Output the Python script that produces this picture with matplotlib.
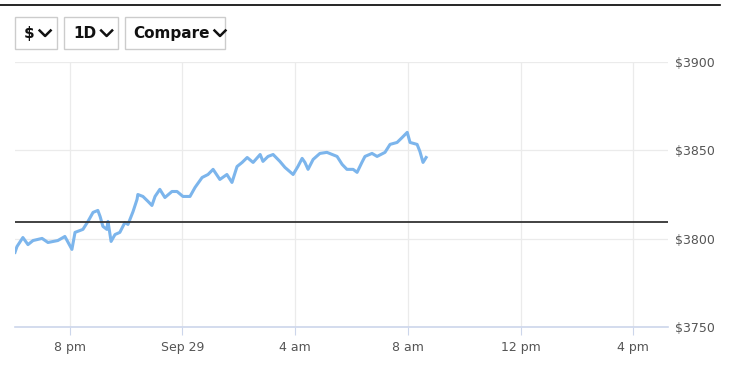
import matplotlib
matplotlib.use('Agg')
import matplotlib.pyplot as plt
from matplotlib.patches import Rectangle
from matplotlib.lines import Line2D

# hours relative to midnight Sep 29, and price
hours = [-5.94, -5.87, -5.66, -5.48, -5.30, -4.98, -4.77, -4.42, -4.17, -3.92,
         -3.81, -3.53, -3.35, -3.17, -3.00, -2.92, -2.82, -2.68, -2.64, -2.53,
         -2.39, -2.22, -2.04, -1.93, -1.75, -1.61, -1.58, -1.40, -1.22, -1.08,
         -0.97, -0.80, -0.62, -0.37, -0.19, 0.02, 0.27, 0.45, 0.70, 0.91,
         1.09, 1.33, 1.58, 1.76, 1.94, 2.12, 2.30, 2.51, 2.76, 2.86,
         3.04, 3.22, 3.46, 3.64, 3.93, 4.10, 4.25, 4.35, 4.46, 4.64,
         4.88, 5.13, 5.49, 5.67, 5.84, 6.06, 6.20, 6.37, 6.48, 6.73,
         6.91, 7.19, 7.37, 7.62, 7.80, 7.98, 8.08, 8.33, 8.43, 8.54, 8.65]
prices = [3792.3, 3795.6, 3800.7, 3796.7, 3799.0, 3800.2, 3797.9, 3799.0, 3801.3, 3794.0,
          3803.6, 3805.3, 3809.8, 3814.9, 3816.0, 3812.6, 3807.0, 3805.3, 3809.8, 3798.5,
          3802.4, 3803.6, 3809.2, 3808.1, 3815.4, 3822.2, 3825.0, 3823.9, 3821.1, 3818.8,
          3823.9, 3827.9, 3823.3, 3826.7, 3826.7, 3823.9, 3823.9, 3829.0, 3834.6, 3836.3,
          3839.2, 3833.5, 3836.3, 3831.8, 3840.8, 3843.1, 3845.9, 3843.1, 3847.6, 3843.7,
          3846.5, 3847.6, 3843.7, 3840.3, 3836.3, 3840.8, 3845.4, 3843.1, 3839.2, 3844.8,
          3848.2, 3848.8, 3846.5, 3842.0, 3839.2, 3839.2, 3837.5, 3843.1, 3846.5, 3848.2,
          3846.5, 3848.8, 3853.3, 3854.4, 3857.2, 3860.1, 3854.4, 3853.3, 3849.3, 3843.1, 3845.9]
prev_close = 3809.5

tick_hours = [-4, 0, 4, 8, 12, 16]
tick_labels = ['8 pm', 'Sep 29', '4 am', '8 am', '12 pm', '4 pm']
y_ticks = [3750, 3800, 3850, 3900]
buttons = ['$', '1D', 'Compare']

W, H = 737, 366
fig = plt.figure(figsize=(W / 100, H / 100), dpi=100)
ax = fig.add_axes([15 / W, (H - 327.3) / H, (667.6 - 15) / W, (327.3 - 61.7) / H])

ax.plot(hours, prices, color='#7cb5ec', linewidth=2.2, solid_joinstyle='round', zorder=3)
ax.axhline(prev_close, color='#333333', linewidth=1.3, zorder=4)

ax.set_xlim(-5.94, 17.22)
ax.set_ylim(3750, 3900)
ax.set_xticks(tick_hours)
ax.set_xticklabels(tick_labels)
ax.set_yticks(y_ticks)
ax.set_yticklabels(['$%d' % v for v in y_ticks])
ax.yaxis.tick_right()
ax.grid(True, color='#ebebeb', linewidth=0.9, zorder=0)

for s in ['top', 'left', 'right']:
    ax.spines[s].set_visible(False)
ax.spines['bottom'].set_color('#ccd6eb')
ax.spines['bottom'].set_linewidth(1.2)
ax.tick_params(axis='x', length=6, color='#ccd6eb', pad=4, labelsize=9, labelcolor='#555555')
ax.tick_params(axis='y', length=0, pad=5, labelsize=9, labelcolor='#555555')
for lbl in ax.get_yticklabels():
    lbl.set_horizontalalignment('left')

# top rule
fig.add_artist(Line2D([0, 720 / W], [1 - 5 / H, 1 - 5 / H], color='black', linewidth=1.2))

# dropdown buttons
boxes = [(15, 57), (64, 118), (125, 225)]
text_x = [24, 73, 133]
cy = H - 33.5  # pixels from bottom
for (x0, x1), tx, name in zip(boxes, text_x, buttons):
    fig.add_artist(Rectangle((x0 / W, 1 - 49 / H), (x1 - x0) / W, 32 / H,
                             fill=False, edgecolor='#cccccc', linewidth=1))
    t = fig.text(tx / W, cy / H, name, fontsize=11, fontweight='bold',
                 color='#111111', va='center', ha='left')
    # chevron just after the text
    fig.canvas.draw()
    bb = t.get_window_extent()
    cx = bb.x1 + 5
    fig.add_artist(Line2D([cx / W, (cx + 5.5) / W, (cx + 11) / W],
                          [(cy + 3) / H, (cy - 2.5) / H, (cy + 3) / H],
                          color='#111111', linewidth=1.8))

fig.savefig('out.png', dpi=100)
